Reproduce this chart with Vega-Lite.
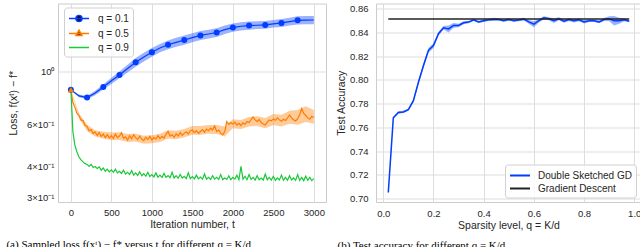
{
  "$schema": "https://vega.github.io/schema/vega-lite/v6.json",
  "padding": {"left": 5, "top": 2.5, "right": 0, "bottom": 0},
  "spacing": 9,
  "resolve": {"scale": {"color": "independent", "x": "independent", "y": "independent"}, "legend": {"color": "independent"}},
  "config": {
    "font": "Liberation Sans",
    "view": {"stroke": "#cccccc", "strokeWidth": 1},
    "axis": {"domain": false, "ticks": false, "gridColor": "#dddddd", "gridWidth": 1, "labelFontSize": 9.5, "titleFontSize": 10.5, "labelColor": "#262626", "titleColor": "#262626", "titleFontWeight": "normal", "labelFont": "Liberation Sans", "titleFont": "Liberation Sans", "labelOverlap": false},
    "legend": {"labelFont": "Liberation Sans", "labelFontSize": 10, "labelColor": "#262626", "padding": 4, "rowPadding": 1, "strokeColor": "#d0d0d0", "cornerRadius": 3, "fillColor": "rgba(255,255,255,0.85)", "symbolOpacity": 1},
    "title": {"font": "Liberation Serif", "fontSize": 11, "fontWeight": "normal", "color": "#000000"}
  },
  "datasets": {
    "loss": [
      {"q":"q = 0.1","t":0,"v":0.839},{"q":"q = 0.1","t":100,"v":0.790},{"q":"q = 0.1","t":200,"v":0.778},{"q":"q = 0.1","t":300,"v":0.812},{"q":"q = 0.1","t":400,"v":0.861},{"q":"q = 0.1","t":500,"v":0.913},{"q":"q = 0.1","t":600,"v":0.966},{"q":"q = 0.1","t":700,"v":1.028},{"q":"q = 0.1","t":800,"v":1.09},{"q":"q = 0.1","t":900,"v":1.148},{"q":"q = 0.1","t":1000,"v":1.20},{"q":"q = 0.1","t":1100,"v":1.25},{"q":"q = 0.1","t":1200,"v":1.29},{"q":"q = 0.1","t":1300,"v":1.32},{"q":"q = 0.1","t":1400,"v":1.35},{"q":"q = 0.1","t":1500,"v":1.38},{"q":"q = 0.1","t":1600,"v":1.41},{"q":"q = 0.1","t":1700,"v":1.43},{"q":"q = 0.1","t":1800,"v":1.45},{"q":"q = 0.1","t":1900,"v":1.49},{"q":"q = 0.1","t":2000,"v":1.52},{"q":"q = 0.1","t":2100,"v":1.54},{"q":"q = 0.1","t":2200,"v":1.55},{"q":"q = 0.1","t":2300,"v":1.555},{"q":"q = 0.1","t":2400,"v":1.56},{"q":"q = 0.1","t":2500,"v":1.575},{"q":"q = 0.1","t":2600,"v":1.59},{"q":"q = 0.1","t":2700,"v":1.61},{"q":"q = 0.1","t":2800,"v":1.63},{"q":"q = 0.1","t":2900,"v":1.632},{"q":"q = 0.1","t":3000,"v":1.635},
      {"q":"q = 0.5","t":0,"v":0.839},{"q":"q = 0.5","t":25,"v":0.742},{"q":"q = 0.5","t":50,"v":0.708},{"q":"q = 0.5","t":75,"v":0.668},{"q":"q = 0.5","t":100,"v":0.655},{"q":"q = 0.5","t":125,"v":0.628},{"q":"q = 0.5","t":150,"v":0.624},{"q":"q = 0.5","t":175,"v":0.596},{"q":"q = 0.5","t":200,"v":0.590},{"q":"q = 0.5","t":225,"v":0.566},{"q":"q = 0.5","t":250,"v":0.572},{"q":"q = 0.5","t":275,"v":0.551},{"q":"q = 0.5","t":300,"v":0.560},{"q":"q = 0.5","t":325,"v":0.541},{"q":"q = 0.5","t":350,"v":0.556},{"q":"q = 0.5","t":375,"v":0.536},{"q":"q = 0.5","t":400,"v":0.548},{"q":"q = 0.5","t":425,"v":0.530},{"q":"q = 0.5","t":450,"v":0.545},{"q":"q = 0.5","t":475,"v":0.528},{"q":"q = 0.5","t":500,"v":0.540},{"q":"q = 0.5","t":525,"v":0.526},{"q":"q = 0.5","t":550,"v":0.548},{"q":"q = 0.5","t":575,"v":0.530},{"q":"q = 0.5","t":600,"v":0.538},{"q":"q = 0.5","t":625,"v":0.556},{"q":"q = 0.5","t":650,"v":0.527},{"q":"q = 0.5","t":675,"v":0.534},{"q":"q = 0.5","t":700,"v":0.518},{"q":"q = 0.5","t":725,"v":0.540},{"q":"q = 0.5","t":750,"v":0.524},{"q":"q = 0.5","t":775,"v":0.545},{"q":"q = 0.5","t":800,"v":0.530},{"q":"q = 0.5","t":825,"v":0.520},{"q":"q = 0.5","t":850,"v":0.538},{"q":"q = 0.5","t":875,"v":0.523},{"q":"q = 0.5","t":900,"v":0.515},{"q":"q = 0.5","t":925,"v":0.532},{"q":"q = 0.5","t":950,"v":0.520},{"q":"q = 0.5","t":975,"v":0.536},{"q":"q = 0.5","t":1000,"v":0.518},{"q":"q = 0.5","t":1025,"v":0.530},{"q":"q = 0.5","t":1050,"v":0.522},{"q":"q = 0.5","t":1075,"v":0.540},{"q":"q = 0.5","t":1100,"v":0.525},{"q":"q = 0.5","t":1125,"v":0.536},{"q":"q = 0.5","t":1150,"v":0.528},{"q":"q = 0.5","t":1175,"v":0.548},{"q":"q = 0.5","t":1200,"v":0.562},{"q":"q = 0.5","t":1225,"v":0.538},{"q":"q = 0.5","t":1250,"v":0.545},{"q":"q = 0.5","t":1275,"v":0.532},{"q":"q = 0.5","t":1300,"v":0.550},{"q":"q = 0.5","t":1325,"v":0.538},{"q":"q = 0.5","t":1350,"v":0.556},{"q":"q = 0.5","t":1375,"v":0.542},{"q":"q = 0.5","t":1400,"v":0.552},{"q":"q = 0.5","t":1425,"v":0.560},{"q":"q = 0.5","t":1450,"v":0.548},{"q":"q = 0.5","t":1475,"v":0.566},{"q":"q = 0.5","t":1500,"v":0.570},{"q":"q = 0.5","t":1525,"v":0.556},{"q":"q = 0.5","t":1550,"v":0.566},{"q":"q = 0.5","t":1575,"v":0.552},{"q":"q = 0.5","t":1600,"v":0.562},{"q":"q = 0.5","t":1625,"v":0.572},{"q":"q = 0.5","t":1650,"v":0.558},{"q":"q = 0.5","t":1675,"v":0.575},{"q":"q = 0.5","t":1700,"v":0.566},{"q":"q = 0.5","t":1725,"v":0.580},{"q":"q = 0.5","t":1750,"v":0.570},{"q":"q = 0.5","t":1775,"v":0.592},{"q":"q = 0.5","t":1800,"v":0.562},{"q":"q = 0.5","t":1825,"v":0.570},{"q":"q = 0.5","t":1850,"v":0.553},{"q":"q = 0.5","t":1875,"v":0.545},{"q":"q = 0.5","t":1900,"v":0.560},{"q":"q = 0.5","t":1925,"v":0.618},{"q":"q = 0.5","t":1950,"v":0.602},{"q":"q = 0.5","t":1975,"v":0.612},{"q":"q = 0.5","t":2000,"v":0.604},{"q":"q = 0.5","t":2025,"v":0.614},{"q":"q = 0.5","t":2050,"v":0.598},{"q":"q = 0.5","t":2075,"v":0.608},{"q":"q = 0.5","t":2100,"v":0.595},{"q":"q = 0.5","t":2125,"v":0.610},{"q":"q = 0.5","t":2150,"v":0.602},{"q":"q = 0.5","t":2175,"v":0.618},{"q":"q = 0.5","t":2200,"v":0.612},{"q":"q = 0.5","t":2225,"v":0.630},{"q":"q = 0.5","t":2250,"v":0.645},{"q":"q = 0.5","t":2275,"v":0.628},{"q":"q = 0.5","t":2300,"v":0.618},{"q":"q = 0.5","t":2325,"v":0.630},{"q":"q = 0.5","t":2350,"v":0.612},{"q":"q = 0.5","t":2375,"v":0.604},{"q":"q = 0.5","t":2400,"v":0.598},{"q":"q = 0.5","t":2425,"v":0.614},{"q":"q = 0.5","t":2450,"v":0.628},{"q":"q = 0.5","t":2475,"v":0.622},{"q":"q = 0.5","t":2500,"v":0.634},{"q":"q = 0.5","t":2525,"v":0.626},{"q":"q = 0.5","t":2550,"v":0.640},{"q":"q = 0.5","t":2575,"v":0.628},{"q":"q = 0.5","t":2600,"v":0.620},{"q":"q = 0.5","t":2625,"v":0.632},{"q":"q = 0.5","t":2650,"v":0.624},{"q":"q = 0.5","t":2675,"v":0.640},{"q":"q = 0.5","t":2700,"v":0.658},{"q":"q = 0.5","t":2725,"v":0.640},{"q":"q = 0.5","t":2750,"v":0.628},{"q":"q = 0.5","t":2775,"v":0.622},{"q":"q = 0.5","t":2800,"v":0.635},{"q":"q = 0.5","t":2825,"v":0.660},{"q":"q = 0.5","t":2850,"v":0.700},{"q":"q = 0.5","t":2875,"v":0.668},{"q":"q = 0.5","t":2900,"v":0.655},{"q":"q = 0.5","t":2925,"v":0.640},{"q":"q = 0.5","t":2950,"v":0.632},{"q":"q = 0.5","t":2975,"v":0.650},{"q":"q = 0.5","t":3000,"v":0.642},
      {"q":"q = 0.9","t":0,"v":0.839},{"q":"q = 0.9","t":25,"v":0.560},{"q":"q = 0.9","t":50,"v":0.492},{"q":"q = 0.9","t":75,"v":0.462},{"q":"q = 0.9","t":100,"v":0.440},{"q":"q = 0.9","t":125,"v":0.428},{"q":"q = 0.9","t":150,"v":0.420},{"q":"q = 0.9","t":175,"v":0.413},{"q":"q = 0.9","t":200,"v":0.410},{"q":"q = 0.9","t":225,"v":0.402},{"q":"q = 0.9","t":250,"v":0.410},{"q":"q = 0.9","t":275,"v":0.398},{"q":"q = 0.9","t":300,"v":0.402},{"q":"q = 0.9","t":325,"v":0.394},{"q":"q = 0.9","t":350,"v":0.400},{"q":"q = 0.9","t":375,"v":0.388},{"q":"q = 0.9","t":400,"v":0.396},{"q":"q = 0.9","t":425,"v":0.384},{"q":"q = 0.9","t":450,"v":0.392},{"q":"q = 0.9","t":475,"v":0.382},{"q":"q = 0.9","t":500,"v":0.389},{"q":"q = 0.9","t":525,"v":0.380},{"q":"q = 0.9","t":550,"v":0.392},{"q":"q = 0.9","t":575,"v":0.378},{"q":"q = 0.9","t":600,"v":0.384},{"q":"q = 0.9","t":625,"v":0.376},{"q":"q = 0.9","t":650,"v":0.388},{"q":"q = 0.9","t":675,"v":0.374},{"q":"q = 0.9","t":700,"v":0.380},{"q":"q = 0.9","t":725,"v":0.372},{"q":"q = 0.9","t":750,"v":0.386},{"q":"q = 0.9","t":775,"v":0.370},{"q":"q = 0.9","t":800,"v":0.378},{"q":"q = 0.9","t":825,"v":0.369},{"q":"q = 0.9","t":850,"v":0.382},{"q":"q = 0.9","t":875,"v":0.368},{"q":"q = 0.9","t":900,"v":0.375},{"q":"q = 0.9","t":925,"v":0.366},{"q":"q = 0.9","t":950,"v":0.380},{"q":"q = 0.9","t":975,"v":0.365},{"q":"q = 0.9","t":1000,"v":0.372},{"q":"q = 0.9","t":1025,"v":0.364},{"q":"q = 0.9","t":1050,"v":0.378},{"q":"q = 0.9","t":1075,"v":0.363},{"q":"q = 0.9","t":1100,"v":0.370},{"q":"q = 0.9","t":1125,"v":0.362},{"q":"q = 0.9","t":1150,"v":0.376},{"q":"q = 0.9","t":1175,"v":0.362},{"q":"q = 0.9","t":1200,"v":0.368},{"q":"q = 0.9","t":1225,"v":0.361},{"q":"q = 0.9","t":1250,"v":0.380},{"q":"q = 0.9","t":1275,"v":0.360},{"q":"q = 0.9","t":1300,"v":0.368},{"q":"q = 0.9","t":1325,"v":0.359},{"q":"q = 0.9","t":1350,"v":0.372},{"q":"q = 0.9","t":1375,"v":0.360},{"q":"q = 0.9","t":1400,"v":0.366},{"q":"q = 0.9","t":1425,"v":0.358},{"q":"q = 0.9","t":1450,"v":0.378},{"q":"q = 0.9","t":1475,"v":0.358},{"q":"q = 0.9","t":1500,"v":0.365},{"q":"q = 0.9","t":1525,"v":0.357},{"q":"q = 0.9","t":1550,"v":0.370},{"q":"q = 0.9","t":1575,"v":0.357},{"q":"q = 0.9","t":1600,"v":0.363},{"q":"q = 0.9","t":1625,"v":0.356},{"q":"q = 0.9","t":1650,"v":0.374},{"q":"q = 0.9","t":1675,"v":0.356},{"q":"q = 0.9","t":1700,"v":0.362},{"q":"q = 0.9","t":1725,"v":0.355},{"q":"q = 0.9","t":1750,"v":0.368},{"q":"q = 0.9","t":1775,"v":0.356},{"q":"q = 0.9","t":1800,"v":0.362},{"q":"q = 0.9","t":1825,"v":0.355},{"q":"q = 0.9","t":1850,"v":0.372},{"q":"q = 0.9","t":1875,"v":0.354},{"q":"q = 0.9","t":1900,"v":0.360},{"q":"q = 0.9","t":1925,"v":0.355},{"q":"q = 0.9","t":1950,"v":0.368},{"q":"q = 0.9","t":1975,"v":0.354},{"q":"q = 0.9","t":2000,"v":0.362},{"q":"q = 0.9","t":2025,"v":0.356},{"q":"q = 0.9","t":2050,"v":0.370},{"q":"q = 0.9","t":2075,"v":0.354},{"q":"q = 0.9","t":2100,"v":0.402},{"q":"q = 0.9","t":2125,"v":0.356},{"q":"q = 0.9","t":2150,"v":0.366},{"q":"q = 0.9","t":2175,"v":0.354},{"q":"q = 0.9","t":2200,"v":0.372},{"q":"q = 0.9","t":2225,"v":0.355},{"q":"q = 0.9","t":2250,"v":0.362},{"q":"q = 0.9","t":2275,"v":0.353},{"q":"q = 0.9","t":2300,"v":0.368},{"q":"q = 0.9","t":2325,"v":0.354},{"q":"q = 0.9","t":2350,"v":0.360},{"q":"q = 0.9","t":2375,"v":0.353},{"q":"q = 0.9","t":2400,"v":0.374},{"q":"q = 0.9","t":2425,"v":0.354},{"q":"q = 0.9","t":2450,"v":0.362},{"q":"q = 0.9","t":2475,"v":0.353},{"q":"q = 0.9","t":2500,"v":0.366},{"q":"q = 0.9","t":2525,"v":0.352},{"q":"q = 0.9","t":2550,"v":0.360},{"q":"q = 0.9","t":2575,"v":0.353},{"q":"q = 0.9","t":2600,"v":0.370},{"q":"q = 0.9","t":2625,"v":0.352},{"q":"q = 0.9","t":2650,"v":0.362},{"q":"q = 0.9","t":2675,"v":0.352},{"q":"q = 0.9","t":2700,"v":0.368},{"q":"q = 0.9","t":2725,"v":0.353},{"q":"q = 0.9","t":2750,"v":0.360},{"q":"q = 0.9","t":2775,"v":0.352},{"q":"q = 0.9","t":2800,"v":0.372},{"q":"q = 0.9","t":2825,"v":0.352},{"q":"q = 0.9","t":2850,"v":0.362},{"q":"q = 0.9","t":2875,"v":0.351},{"q":"q = 0.9","t":2900,"v":0.366},{"q":"q = 0.9","t":2925,"v":0.352},{"q":"q = 0.9","t":2950,"v":0.362},{"q":"q = 0.9","t":2975,"v":0.351},{"q":"q = 0.9","t":3000,"v":0.358}
    ],
    "lossBand": [
      {"q":"q = 0.1","t":0,"lo":0.839,"hi":0.839},{"q":"q = 0.1","t":100,"lo":0.78,"hi":0.80},{"q":"q = 0.1","t":200,"lo":0.766,"hi":0.790},{"q":"q = 0.1","t":300,"lo":0.795,"hi":0.830},{"q":"q = 0.1","t":400,"lo":0.84,"hi":0.882},{"q":"q = 0.1","t":500,"lo":0.885,"hi":0.940},{"q":"q = 0.1","t":600,"lo":0.935,"hi":0.998},{"q":"q = 0.1","t":700,"lo":0.990,"hi":1.066},{"q":"q = 0.1","t":800,"lo":1.045,"hi":1.135},{"q":"q = 0.1","t":900,"lo":1.10,"hi":1.196},{"q":"q = 0.1","t":1000,"lo":1.15,"hi":1.25},{"q":"q = 0.1","t":1100,"lo":1.20,"hi":1.30},{"q":"q = 0.1","t":1200,"lo":1.235,"hi":1.345},{"q":"q = 0.1","t":1300,"lo":1.265,"hi":1.378},{"q":"q = 0.1","t":1400,"lo":1.29,"hi":1.41},{"q":"q = 0.1","t":1500,"lo":1.32,"hi":1.44},{"q":"q = 0.1","t":1600,"lo":1.35,"hi":1.47},{"q":"q = 0.1","t":1700,"lo":1.37,"hi":1.49},{"q":"q = 0.1","t":1800,"lo":1.39,"hi":1.51},{"q":"q = 0.1","t":1900,"lo":1.43,"hi":1.55},{"q":"q = 0.1","t":2000,"lo":1.46,"hi":1.58},{"q":"q = 0.1","t":2100,"lo":1.48,"hi":1.60},{"q":"q = 0.1","t":2200,"lo":1.49,"hi":1.61},{"q":"q = 0.1","t":2300,"lo":1.50,"hi":1.615},{"q":"q = 0.1","t":2400,"lo":1.505,"hi":1.62},{"q":"q = 0.1","t":2500,"lo":1.52,"hi":1.635},{"q":"q = 0.1","t":2600,"lo":1.53,"hi":1.65},{"q":"q = 0.1","t":2700,"lo":1.55,"hi":1.67},{"q":"q = 0.1","t":2800,"lo":1.565,"hi":1.695},{"q":"q = 0.1","t":2900,"lo":1.57,"hi":1.70},{"q":"q = 0.1","t":3000,"lo":1.57,"hi":1.70},
      {"q":"q = 0.5","t":0,"lo":0.839,"hi":0.839},{"q":"q = 0.5","t":100,"lo":0.635,"hi":0.670},{"q":"q = 0.5","t":200,"lo":0.565,"hi":0.600},{"q":"q = 0.5","t":300,"lo":0.535,"hi":0.568},{"q":"q = 0.5","t":400,"lo":0.525,"hi":0.560},{"q":"q = 0.5","t":500,"lo":0.518,"hi":0.556},{"q":"q = 0.5","t":600,"lo":0.518,"hi":0.558},{"q":"q = 0.5","t":700,"lo":0.508,"hi":0.548},{"q":"q = 0.5","t":800,"lo":0.510,"hi":0.550},{"q":"q = 0.5","t":900,"lo":0.500,"hi":0.540},{"q":"q = 0.5","t":1000,"lo":0.502,"hi":0.542},{"q":"q = 0.5","t":1100,"lo":0.508,"hi":0.550},{"q":"q = 0.5","t":1200,"lo":0.525,"hi":0.568},{"q":"q = 0.5","t":1300,"lo":0.522,"hi":0.566},{"q":"q = 0.5","t":1400,"lo":0.532,"hi":0.576},{"q":"q = 0.5","t":1500,"lo":0.545,"hi":0.592},{"q":"q = 0.5","t":1600,"lo":0.545,"hi":0.592},{"q":"q = 0.5","t":1700,"lo":0.550,"hi":0.598},{"q":"q = 0.5","t":1800,"lo":0.548,"hi":0.598},{"q":"q = 0.5","t":1900,"lo":0.535,"hi":0.590},{"q":"q = 0.5","t":2000,"lo":0.580,"hi":0.632},{"q":"q = 0.5","t":2100,"lo":0.575,"hi":0.628},{"q":"q = 0.5","t":2200,"lo":0.590,"hi":0.645},{"q":"q = 0.5","t":2300,"lo":0.592,"hi":0.650},{"q":"q = 0.5","t":2400,"lo":0.580,"hi":0.640},{"q":"q = 0.5","t":2500,"lo":0.598,"hi":0.665},{"q":"q = 0.5","t":2600,"lo":0.590,"hi":0.660},{"q":"q = 0.5","t":2700,"lo":0.605,"hi":0.685},{"q":"q = 0.5","t":2800,"lo":0.600,"hi":0.690},{"q":"q = 0.5","t":2900,"lo":0.615,"hi":0.715},{"q":"q = 0.5","t":3000,"lo":0.605,"hi":0.690}
    ],
    "acc": [
      {"q":0.02,"v":0.705,"lo":0.704,"hi":0.706},{"q":0.04,"v":0.768,"lo":0.767,"hi":0.769},{"q":0.06,"v":0.7725,"lo":0.7715,"hi":0.7735},{"q":0.08,"v":0.773,"lo":0.772,"hi":0.774},{"q":0.10,"v":0.775,"lo":0.774,"hi":0.776},{"q":0.12,"v":0.7825,"lo":0.781,"hi":0.784},{"q":0.14,"v":0.798,"lo":0.796,"hi":0.800},{"q":0.16,"v":0.812,"lo":0.810,"hi":0.814},{"q":0.18,"v":0.825,"lo":0.823,"hi":0.827},{"q":0.20,"v":0.829,"lo":0.827,"hi":0.831},{"q":0.22,"v":0.839,"lo":0.8375,"hi":0.8405},{"q":0.24,"v":0.844,"lo":0.8425,"hi":0.8455},{"q":0.26,"v":0.843,"lo":0.840,"hi":0.846},{"q":0.28,"v":0.846,"lo":0.844,"hi":0.848},{"q":0.30,"v":0.846,"lo":0.8445,"hi":0.8475},{"q":0.32,"v":0.8482,"lo":0.847,"hi":0.8495},{"q":0.34,"v":0.8488,"lo":0.8478,"hi":0.8498},{"q":0.36,"v":0.8507,"lo":0.8497,"hi":0.8517},{"q":0.38,"v":0.849,"lo":0.848,"hi":0.850},{"q":0.40,"v":0.8499,"lo":0.8489,"hi":0.8509},{"q":0.42,"v":0.8507,"lo":0.8497,"hi":0.8517},{"q":0.44,"v":0.851,"lo":0.850,"hi":0.8525},{"q":0.46,"v":0.851,"lo":0.850,"hi":0.852},{"q":0.48,"v":0.850,"lo":0.849,"hi":0.851},{"q":0.50,"v":0.851,"lo":0.850,"hi":0.852},{"q":0.52,"v":0.850,"lo":0.849,"hi":0.851},{"q":0.54,"v":0.8505,"lo":0.8495,"hi":0.8515},{"q":0.56,"v":0.8513,"lo":0.8503,"hi":0.8525},{"q":0.58,"v":0.849,"lo":0.8475,"hi":0.8505},{"q":0.60,"v":0.847,"lo":0.8445,"hi":0.8495},{"q":0.62,"v":0.850,"lo":0.8485,"hi":0.8515},{"q":0.64,"v":0.8524,"lo":0.851,"hi":0.8538},{"q":0.66,"v":0.8516,"lo":0.8503,"hi":0.8529},{"q":0.68,"v":0.850,"lo":0.848,"hi":0.852},{"q":0.70,"v":0.8516,"lo":0.8503,"hi":0.8529},{"q":0.72,"v":0.8496,"lo":0.8483,"hi":0.8509},{"q":0.74,"v":0.851,"lo":0.8497,"hi":0.8523},{"q":0.76,"v":0.850,"lo":0.8485,"hi":0.8515},{"q":0.78,"v":0.8507,"lo":0.8495,"hi":0.852},{"q":0.80,"v":0.849,"lo":0.8477,"hi":0.8503},{"q":0.82,"v":0.850,"lo":0.8488,"hi":0.8512},{"q":0.84,"v":0.850,"lo":0.8488,"hi":0.8512},{"q":0.86,"v":0.849,"lo":0.8478,"hi":0.8502},{"q":0.88,"v":0.851,"lo":0.8497,"hi":0.8523},{"q":0.90,"v":0.8516,"lo":0.8495,"hi":0.8537},{"q":0.92,"v":0.850,"lo":0.846,"hi":0.854},{"q":0.94,"v":0.850,"lo":0.8475,"hi":0.8525},{"q":0.96,"v":0.8507,"lo":0.8495,"hi":0.852},{"q":0.98,"v":0.8496,"lo":0.8486,"hi":0.8506}
    ],
    "gd": [{"q":0.02,"v":0.8515},{"q":0.98,"v":0.8515}]
  },
  "hconcat": [
    {
      "width": 268,
      "height": 198.5,
      "title": {"text": "(a) Sampled loss f(xᵗ) − f* versus t for different q = K/d", "orient": "bottom", "anchor": "start", "frame": "bounds", "offset": 9, "dx": -2},
      "layer": [
        {
          "data": {"name": "lossBand"},
          "mark": {"type": "area", "opacity": 0.4},
          "encoding": {
            "x": {"field": "t", "type": "quantitative", "scale": {"domain": [-159, 3150], "nice": false, "zero": false}, "axis": {"values": [0, 500, 1000, 1500, 2000, 2500, 3000], "format": "d", "title": "Iteration number,  t", "labelPadding": 5, "titlePadding": 3}},
            "y": {"field": "lo", "type": "quantitative", "scale": {"type": "log", "domain": [0.286, 1.915], "nice": false}, "axis": {"values": [0.3, 0.4, 0.6, 1], "labelOverlap": false, "labelExpr": "datum.value == 1 ? '10⁰' : datum.value == 0.6 ? '6×10⁻¹' : datum.value == 0.4 ? '4×10⁻¹' : '3×10⁻¹'", "title": "Loss,  f(xᵗ) − f*", "labelPadding": 4, "titlePadding": 8, "gridOpacity": {"condition": {"test": "datum.value == 1", "value": 1}, "value": 0}}},
            "y2": {"field": "hi"},
            "color": {"field": "q", "type": "nominal", "scale": {"domain": ["q = 0.1", "q = 0.5", "q = 0.9"], "range": ["#023eff", "#ff7c00", "#1ac938"]}, "legend": null}
          }
        },
        {
          "data": {"name": "loss"},
          "mark": {"type": "line", "strokeWidth": 1.2},
          "encoding": {
            "x": {"field": "t", "type": "quantitative"},
            "y": {"field": "v", "type": "quantitative"},
            "color": {"field": "q", "type": "nominal", "legend": null}
          }
        },
        {
          "data": {"name": "loss"},
          "transform": [{"filter": "datum.q == 'q = 0.1' && datum.t % 200 == 0 && datum.t < 3000"}],
          "mark": {"type": "point", "shape": "circle", "filled": true, "opacity": 1, "size": 36, "color": "#023eff"},
          "encoding": {
            "x": {"field": "t", "type": "quantitative"},
            "y": {"field": "v", "type": "quantitative"}
          }
        },
        {
          "data": {"name": "loss"},
          "transform": [{"filter": "datum.q == 'q = 0.5' && datum.t == 0"}],
          "mark": {"type": "point", "shape": "triangle-up", "filled": true, "opacity": 1, "size": 40, "color": "#ff7c00"},
          "encoding": {
            "x": {"field": "t", "type": "quantitative"},
            "y": {"field": "v", "type": "quantitative"}
          }
        },
        {
          "data": {"values": [{"q": "q = 0.1"}, {"q": "q = 0.5"}, {"q": "q = 0.9"}]},
          "mark": {"type": "point", "filled": true, "opacity": 0, "strokeWidth": 1.5},
          "encoding": {
            "color": {"field": "q", "type": "nominal", "legend": {"title": null, "orient": "none", "legendX": 6, "legendY": 4, "symbolSize": 144, "labelOffset": 16, "symbolStrokeWidth": 1.5, "symbolOpacity": 1}},
            "stroke": {"field": "q", "type": "nominal", "scale": {"domain": ["q = 0.1", "q = 0.5", "q = 0.9"], "range": ["#023eff", "#ff7c00", "#1ac938"]}, "legend": {"title": null, "orient": "none", "legendX": 6, "legendY": 4, "symbolSize": 144, "labelOffset": 16, "symbolStrokeWidth": 1.5, "symbolOpacity": 1}},
            "shape": {"field": "q", "type": "nominal", "scale": {"domain": ["q = 0.1", "q = 0.5", "q = 0.9"], "range": ["M-1,0H2.333M1.167,0A0.5,0.5,0,1,1,0.167,0A0.5,0.5,0,1,1,1.167,0Z", "M-1,0H2.333M0.667,-0.55L1.167,0.35L0.167,0.35Z", "M-1,0H2.333"]}, "legend": {"title": null, "orient": "none", "legendX": 6, "legendY": 4, "symbolSize": 144, "labelOffset": 16, "symbolStrokeWidth": 1.5, "symbolOpacity": 1}}
          }
        }
      ]
    },
    {
      "width": 265,
      "height": 198.5,
      "title": {"text": "(b) Test accuracy for different q = K/d", "orient": "bottom", "anchor": "start", "frame": "bounds", "offset": 9, "dx": 1},
      "layer": [
        {
          "data": {"name": "acc"},
          "mark": {"type": "area", "opacity": 0.4, "color": "#023eff"},
          "encoding": {
            "x": {"field": "q", "type": "quantitative", "scale": {"domain": [-0.029, 1.027], "nice": false, "zero": false}, "axis": {"values": [0, 0.2, 0.4, 0.6, 0.8, 1], "format": ".1f", "title": "Sparsity level,  q = K/d", "labelPadding": 6, "titlePadding": 3, "labelOverlap": false}},
            "y": {"field": "lo", "type": "quantitative", "scale": {"domain": [0.697, 0.8645], "nice": false, "zero": false}, "axis": {"values": [0.70, 0.72, 0.74, 0.76, 0.78, 0.80, 0.82, 0.84, 0.86], "tickCount": 9, "format": ".2f", "title": "Test Accuracy", "labelPadding": 8, "titlePadding": 3, "labelOverlap": false}},
            "y2": {"field": "hi"}
          }
        },
        {
          "data": {"name": "acc"},
          "mark": {"type": "line", "strokeWidth": 1.5},
          "encoding": {
            "x": {"field": "q", "type": "quantitative", "axis": {"values": [0, 0.2, 0.4, 0.6, 0.8, 1], "format": ".1f", "title": "Sparsity level,  q = K/d", "labelPadding": 6, "titlePadding": 3, "labelOverlap": false}},
            "y": {"field": "v", "type": "quantitative", "axis": {"values": [0.70, 0.72, 0.74, 0.76, 0.78, 0.80, 0.82, 0.84, 0.86], "tickCount": 9, "format": ".2f", "title": "Test Accuracy", "labelPadding": 8, "titlePadding": 3, "labelOverlap": false}},
            "color": {"datum": "Double Sketched GD", "type": "nominal", "scale": {"domain": ["Double Sketched GD", "Gradient Descent"], "range": ["#023eff", "#222222"]}, "legend": {"title": null, "orient": "bottom-right", "offset": 5, "symbolType": "M-1,0H2.333", "symbolSize": 144, "labelOffset": 15, "symbolStrokeWidth": 2}}
          }
        },
        {
          "data": {"name": "gd"},
          "mark": {"type": "line", "strokeWidth": 1.5},
          "encoding": {
            "x": {"field": "q", "type": "quantitative", "axis": {"values": [0, 0.2, 0.4, 0.6, 0.8, 1], "format": ".1f", "title": "Sparsity level,  q = K/d", "labelPadding": 6, "titlePadding": 3, "labelOverlap": false}},
            "y": {"field": "v", "type": "quantitative", "axis": {"values": [0.70, 0.72, 0.74, 0.76, 0.78, 0.80, 0.82, 0.84, 0.86], "tickCount": 9, "format": ".2f", "title": "Test Accuracy", "labelPadding": 8, "titlePadding": 3, "labelOverlap": false}},
            "color": {"datum": "Gradient Descent", "type": "nominal"}
          }
        }
      ]
    }
  ]
}
